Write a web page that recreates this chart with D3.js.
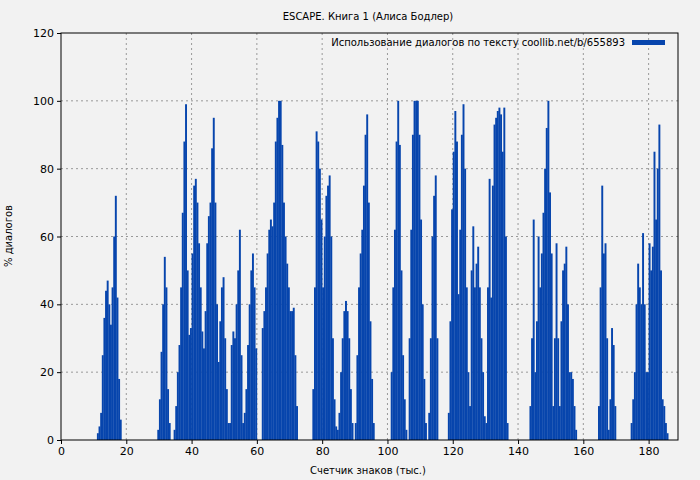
<!DOCTYPE html>
<html>
<head>
<meta charset="utf-8">
<script src="https://cdn.jsdelivr.net/npm/d3@7"></script>
<style>
  body { margin: 0; background: #f2f2f2; }
  text { font-family: "DejaVu Sans", sans-serif; }
</style>
</head>
<body>
<svg id="chart" width="700" height="480"></svg>
<script>
//Data: bursts of dialogue, each starting at a position (thousand chars), values every 0.5k
var step = 0.5;
var burstStarts = [11, 29.5, 34.5, 77, 101, 118.5, 143.5, 164.5, 174.5];
var burstValues = [
  [2, 4, 8, 25, 36, 44, 47, 40, 34, 45, 60, 72, 42, 18, 6],
  [3, 12, 26, 40, 54, 45, 15, 5],
  [3, 10, 20, 28, 45, 67, 88, 99, 50, 31, 33, 55, 75, 77, 70, 58, 45, 32, 27, 38, 58, 66, 70, 86, 95,
   70, 40, 23, 35, 45, 48, 30, 15, 5, 5, 28, 32, 30, 40, 50, 62, 25, 5, 8, 15, 28, 40, 50, 55, 45, 27,
   0, 0, 0, 33, 38, 45, 55, 62, 65, 63, 70, 88, 95, 100, 100, 87, 70, 60, 52, 45, 38, 38, 39, 25, 10],
  [15, 45, 91, 88, 80, 65, 45, 60, 72, 75, 78, 60, 30, 12, 4, 3, 8, 20, 30, 38, 41, 38, 30, 15, 5, 0,
   5, 25, 45, 55, 62, 75, 90, 96, 70, 35, 18, 5],
  [20, 45, 62, 88, 100, 87, 50, 25, 12, 3, 0, 30, 62, 90, 100, 100, 100, 90, 65, 40, 18, 5, 0,
   8, 30, 60, 72, 78, 30],
  [8, 35, 68, 85, 97, 88, 43, 62, 90, 99, 80, 45, 20, 10, 50, 63, 45, 52, 57, 45, 30, 20, 7, 5,
   45, 77, 42, 75, 93, 95, 97, 98, 96, 85, 98, 60, 5, 0],
  [10, 30, 65, 20, 35, 60, 45, 55, 67, 80, 92, 100, 73, 55, 10, 30, 58, 30, 10, 35, 50, 52, 57, 40, 20, 20, 18, 10, 3],
  [10, 45, 75, 55, 58, 30, 3, 12, 33, 28, 10],
  [5, 12, 20, 40, 52, 45, 40, 61, 40, 20, 20, 58, 50, 57, 85, 65, 80, 93, 50, 12, 10, 5, 2]
];
var yTicks = [0, 20, 40, 60, 80, 100, 120];
var xTicks = [0, 20, 40, 60, 80, 100, 120, 140, 160, 180];

var data = [];
burstStarts.forEach(function (s, i) {
  burstValues[i].forEach(function (v, j) {
    data.push({ k: s + j * step, v: v });
  });
});

var svg = d3.select("#chart");
var mLeft = 61, mRight = 678, mTop = 33, mBottom = 440;

var x = d3.scaleLinear().domain([0, 189]).range([mLeft, mRight]);
var y = d3.scaleLinear().domain([0, 120]).range([mBottom, mTop]);

svg.append("rect").attr("width", 700).attr("height", 480).attr("fill", "#f2f2f2");

//Grid
svg.selectAll(".gx").data(xTicks.slice(1)).enter().append("line")
  .attr("x1", d => x(d)).attr("x2", d => x(d)).attr("y1", mTop).attr("y2", mBottom)
  .attr("stroke", "#999").attr("stroke-dasharray", "2,3");
svg.selectAll(".gy").data(yTicks.slice(1, -1)).enter().append("line")
  .attr("x1", mLeft).attr("x2", mRight).attr("y1", d => y(d)).attr("y2", d => y(d))
  .attr("stroke", "#999").attr("stroke-dasharray", "2,3");

//Bars
var bw = x(step) - x(0) + 0.3;
svg.selectAll(".bar").data(data).enter().append("rect")
  .attr("x", d => x(d.k))
  .attr("y", d => y(d.v))
  .attr("width", bw)
  .attr("height", d => mBottom - y(d.v))
  .attr("fill", "#0745ad");

//Frame
svg.append("rect").attr("x", mLeft).attr("y", mTop).attr("width", mRight - mLeft).attr("height", mBottom - mTop)
  .attr("fill", "none").attr("stroke", "#000");

//Axes
svg.append("g").attr("transform", "translate(0," + mBottom + ")")
  .call(d3.axisBottom(x).tickValues(xTicks).tickSize(4).tickSizeOuter(0))
  .call(g => g.select(".domain").remove())
  .selectAll("text").attr("font-size", 11).attr("fill", "#000");
svg.append("g").attr("transform", "translate(" + mLeft + ",0)")
  .call(d3.axisLeft(y).tickValues(yTicks).tickSize(4).tickSizeOuter(0))
  .call(g => g.select(".domain").remove())
  .selectAll("text").attr("font-size", 11).attr("fill", "#000");

//Titles
svg.append("text").attr("x", 368).attr("y", 20).attr("text-anchor", "middle")
  .attr("font-size", 10).text("ESCAPE. Книга 1 (Алиса Бодлер)");
svg.append("text").attr("x", 368).attr("y", 474).attr("text-anchor", "middle")
  .attr("font-size", 10).text("Счетчик знаков (тыс.)");
svg.append("text").attr("transform", "translate(12,236) rotate(-90)").attr("text-anchor", "middle")
  .attr("font-size", 10).text("% диалогов");

//Legend
svg.append("text").attr("x", 625).attr("y", 46).attr("text-anchor", "end")
  .attr("font-size", 10).text("Использование диалогов по тексту coollib.net/b/655893");
svg.append("rect").attr("x", 632).attr("y", 40).attr("width", 33).attr("height", 5).attr("fill", "#0745ad");
</script>
</body>
</html>
